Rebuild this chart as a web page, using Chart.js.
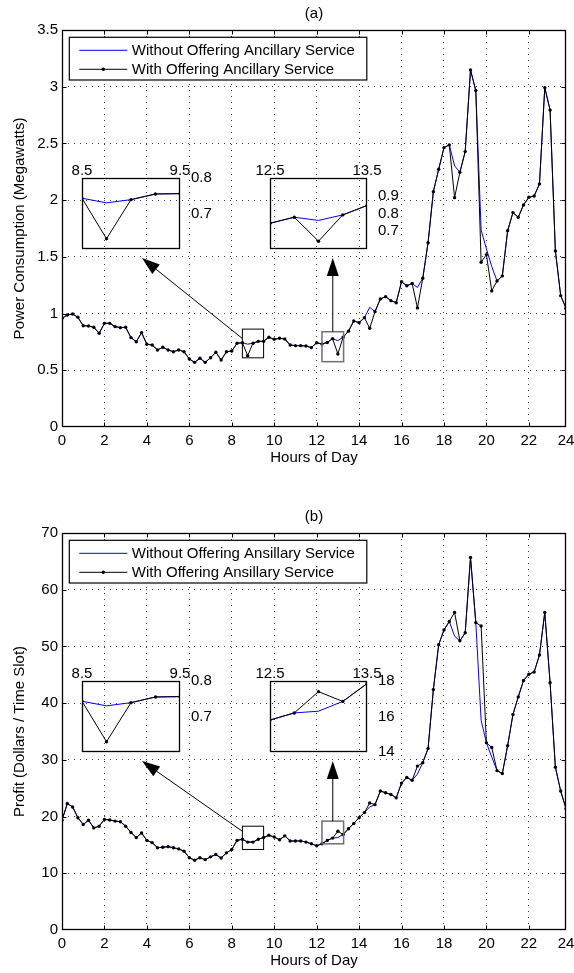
<!DOCTYPE html>
<html>
<head>
<meta charset="utf-8">
<script src="https://cdn.jsdelivr.net/npm/chart.js@4.4.1/dist/chart.umd.min.js"></script>
<style>
  body { margin: 0; background: #fff; }
  #wrap { position: relative; width: 574px; height: 973px; overflow: hidden; }
  #wrap canvas { position: absolute; }
</style>
</head>
<body>
<div id="wrap">
  <canvas id="powerChart" width="574" height="486" style="left:0;top:0"></canvas>
  <canvas id="profitChart" width="574" height="470" style="left:0;top:503px"></canvas>
  <canvas id="powerZoomA"></canvas>
  <canvas id="powerZoomB"></canvas>
  <canvas id="profitZoomA"></canvas>
  <canvas id="profitZoomB"></canvas>
</div>
<script>
// one sample every 15 minutes, 0:00 .. 23:45
const slotHours = Array.from({ length: 96 }, (_, i) => i * 0.25);
const X_MAX = 23.75;
const hourTicks = [0, 2, 4, 6, 8, 10, 12, 14, 16, 18, 20, 22, 24];
const hourTickLabels = ['0', '2', '4', '6', '8', '10', '12', '14', '16', '18', '20', '22', '24'];

const powerTicks = [0, 0.5, 1, 1.5, 2, 2.5, 3, 3.5];
const profitTicks = [0, 10, 20, 30, 40, 50, 60, 70];

const powerLabels = ['Without Offering Ancillary Service', 'With Offering Ancillary Service'];
const profitLabels = ['Without Offering Ansillary Service', 'With Offering Ansillary Service'];

// power consumption (MW)
const powerWith = [
  0.958, 0.988, 0.996, 0.967, 0.893, 0.890, 0.879, 0.826,
  0.914, 0.914, 0.885, 0.876, 0.879, 0.788, 0.752, 0.832,
  0.729, 0.723, 0.679, 0.703, 0.679, 0.664, 0.679, 0.664,
  0.600, 0.570, 0.606, 0.570, 0.611, 0.659, 0.591, 0.664,
  0.670, 0.738, 0.743, 0.629, 0.739, 0.755, 0.756, 0.791,
  0.773, 0.782, 0.776, 0.723, 0.717, 0.717, 0.714, 0.700,
  0.743, 0.732, 0.745, 0.779, 0.644, 0.792, 0.845, 0.935,
  0.920, 0.964, 0.870, 1.017, 1.129, 1.149, 1.114, 1.096,
  1.281, 1.245, 1.265, 1.050, 1.311, 1.625, 2.075, 2.272,
  2.463, 2.487, 2.022, 2.246, 2.428, 3.148, 2.966, 1.452,
  1.520, 1.200, 1.287, 1.332, 1.731, 1.890, 1.849, 1.958,
  2.025, 2.037, 2.143, 2.992, 2.795, 1.552, 1.158, 1.047
];
const powerWithout = [
  0.958, 0.988, 0.996, 0.967, 0.893, 0.890, 0.879, 0.826,
  0.914, 0.914, 0.885, 0.876, 0.879, 0.788, 0.752, 0.832,
  0.729, 0.723, 0.679, 0.703, 0.679, 0.664, 0.679, 0.664,
  0.600, 0.570, 0.606, 0.570, 0.611, 0.659, 0.591, 0.664,
  0.670, 0.738, 0.743, 0.730, 0.739, 0.755, 0.756, 0.791,
  0.773, 0.782, 0.776, 0.723, 0.717, 0.717, 0.714, 0.700,
  0.743, 0.732, 0.745, 0.779, 0.761, 0.792, 0.845, 0.935,
  0.920, 0.964, 1.055, 1.017, 1.129, 1.149, 1.114, 1.096,
  1.281, 1.245, 1.265, 1.230, 1.311, 1.625, 2.075, 2.272,
  2.463, 2.487, 2.302, 2.246, 2.428, 3.148, 2.966, 1.737,
  1.570, 1.415, 1.287, 1.332, 1.731, 1.890, 1.849, 1.958,
  2.025, 2.037, 2.143, 2.992, 2.795, 1.552, 1.158, 1.047
];

// profit ($ per time slot)
const profitWith = [
  19.35, 22.3, 21.7, 19.8, 18.6, 19.35, 18.0, 18.3,
  19.5, 19.4, 19.2, 19.1, 18.3, 17.2, 16.3, 17.1,
  15.8, 15.4, 14.5, 14.6, 14.7, 14.5, 14.3, 13.9,
  12.75, 12.3, 12.75, 12.4, 12.9, 13.3, 12.7, 13.6,
  14.2, 15.8, 16.0, 15.5, 15.5, 16.0, 16.3, 16.7,
  16.4, 15.9, 16.6, 15.7, 15.7, 15.7, 15.5, 15.2,
  14.85, 15.2, 15.8, 16.2, 17.4, 16.85, 17.85, 18.8,
  19.8, 20.7, 22.4, 22.1, 24.5, 24.2, 23.9, 23.3,
  25.9, 26.9, 26.4, 28.9, 29.5, 32.0, 42.4, 50.3,
  52.9, 54.4, 56.0, 51.0, 52.4, 65.7, 54.2, 53.6,
  33.0, 32.2, 28.1, 27.6, 32.5, 38.0, 41.1, 44.0,
  45.1, 45.5, 48.5, 56.0, 43.6, 28.7, 24.5, 21.4
];
const profitWithout = [
  19.35, 22.3, 21.7, 19.8, 18.6, 19.35, 18.0, 18.3,
  19.5, 19.4, 19.2, 19.1, 18.3, 17.2, 16.3, 17.1,
  15.8, 15.4, 14.5, 14.6, 14.7, 14.5, 14.3, 13.9,
  12.75, 12.3, 12.75, 12.4, 12.9, 13.3, 12.7, 13.6,
  14.2, 15.8, 16.0, 15.5, 15.5, 16.0, 16.3, 16.7,
  16.4, 15.9, 16.6, 15.7, 15.7, 15.7, 15.5, 15.2,
  14.85, 15.2, 15.8, 16.2, 16.3, 16.85, 17.85, 18.8,
  19.8, 20.7, 21.7, 22.1, 24.5, 24.2, 23.9, 23.3,
  25.9, 26.9, 26.4, 27.5, 29.5, 32.0, 42.4, 50.3,
  52.9, 54.4, 51.8, 51.0, 52.4, 65.7, 54.2, 37.0,
  33.0, 30.5, 28.1, 27.6, 32.5, 38.0, 41.1, 44.0,
  45.1, 45.5, 48.5, 56.0, 43.6, 28.7, 24.5, 21.4
];

// zoomed windows
const zoomHoursA = [8.5, 9.5];
const zoomHoursB = [12.5, 13.5];
const zoomPowerRangeA = [0.6, 0.8];
const zoomPowerTicksA = [0.7, 0.8];
const zoomPowerRangeB = [0.6, 1.0];
const zoomPowerTicksB = [0.7, 0.8, 0.9];
const zoomProfitRangeB = [14, 18];
const zoomProfitTicksB = [14, 16, 18];

Chart.defaults.font.family = "'Liberation Sans', Arial, Helvetica, sans-serif";
Chart.defaults.font.size = 15;
Chart.defaults.color = '#000';

// inset boxes, in main-canvas pixels
const insetA = { left: 82, top: 178, w: 98, h: 73 };
const insetB = { left: 270, top: 178, w: 97, h: 73 };

function lineSets(labels, without, withSvc) {
  return [
    {
      label: labels[0],
      data: slotHours.map((h, i) => ({ x: h, y: without[i] })),
      borderColor: '#0000ff', borderWidth: 1, pointRadius: 0, order: 2
    },
    {
      label: labels[1],
      data: slotHours.map((h, i) => ({ x: h, y: withSvc[i] })),
      borderColor: '#000', borderWidth: 1,
      pointRadius: 1.7, pointBackgroundColor: '#000', pointBorderWidth: 0, order: 1
    }
  ];
}

function drawArrow(ctx, x0, y0, x1, y1) {
  const ang = Math.atan2(y1 - y0, x1 - x0), len = 18, half = 6;
  const bx = x1 - len * Math.cos(ang), by = y1 - len * Math.sin(ang);
  ctx.beginPath(); ctx.moveTo(x0, y0); ctx.lineTo(bx, by); ctx.stroke();
  ctx.beginPath();
  ctx.moveTo(x1, y1);
  ctx.lineTo(bx + half * Math.sin(ang), by - half * Math.cos(ang));
  ctx.lineTo(bx - half * Math.sin(ang), by + half * Math.cos(ang));
  ctx.closePath(); ctx.fill();
}

// dotted grid, hidden on the outer edges where the box sits
const gridColor = ctx => (ctx.index === 0 || ctx.index === ctx.scale.ticks.length - 1)
  ? 'rgba(0,0,0,0)' : 'rgba(0,0,0,0.75)';

// box, inward ticks, zoom windows, arrows, legend and titles
const framePlugin = {
  id: 'frame',
  afterDatasetsDraw(chart, args, opts) {
    const { ctx, chartArea: a } = chart;
    const x = chart.scales.x, y = chart.scales.y;
    ctx.save();

    opts.windows.forEach(w => {
      const l = x.getPixelForValue(w.x[0]), r = x.getPixelForValue(w.x[1]);
      const t = y.getPixelForValue(w.y[1]), b = y.getPixelForValue(w.y[0]);
      ctx.strokeStyle = w.color; ctx.lineWidth = w.width;
      ctx.strokeRect(l, t, r - l, b - t);
    });

    ctx.strokeStyle = '#000'; ctx.fillStyle = '#000'; ctx.lineWidth = 1;
    opts.arrows.forEach(ar => {
      const x0 = x.getPixelForValue(ar.from[0]), y0 = y.getPixelForValue(ar.from[1]);
      const x1 = ar.to[0] === null ? x0 : ar.to[0];
      drawArrow(ctx, x0, y0, x1, ar.to[1]);
    });

    // axes box with inward ticks
    const L = Math.round(a.left) + 0.5, R = Math.round(a.right) - 0.5;
    const T = Math.round(a.top) + 0.5, B = Math.round(a.bottom) - 0.5;
    const clamp = (v, lo, hi) => Math.max(lo, Math.min(hi, v));
    ctx.lineWidth = 1.3;
    ctx.strokeRect(L, T, R - L, B - T);
    ctx.lineWidth = 1;
    ctx.beginPath();
    x.ticks.forEach(tk => {
      const px = clamp(Math.round(x.getPixelForValue(tk.value)) + 0.5, L, R);
      ctx.moveTo(px, B); ctx.lineTo(px, B - 4);
      ctx.moveTo(px, T); ctx.lineTo(px, T + 4);
    });
    y.ticks.forEach(tk => {
      const py = clamp(Math.round(y.getPixelForValue(tk.value)) + 0.5, T, B);
      ctx.moveTo(L, py); ctx.lineTo(L + 4, py);
      ctx.moveTo(R, py); ctx.lineTo(R - 4, py);
    });
    ctx.stroke();

    // legend
    const lx = a.left + 7.3, ly = a.top + 7.3, lw = 297.5, lh = 42.7;
    ctx.fillStyle = '#fff';
    ctx.fillRect(lx, ly, lw, lh);
    ctx.strokeStyle = '#000'; ctx.lineWidth = 1.2;
    ctx.strokeRect(lx, ly, lw, lh);
    ctx.font = "15px 'Liberation Sans', Arial, sans-serif";
    ctx.textAlign = 'left'; ctx.textBaseline = 'middle';
    chart.data.datasets.forEach((ds, i) => {
      const ry = ly + 13 + i * 19;
      ctx.strokeStyle = ds.borderColor; ctx.lineWidth = 1;
      ctx.beginPath(); ctx.moveTo(lx + 10, ry); ctx.lineTo(lx + 58, ry); ctx.stroke();
      if (ds.pointRadius > 0) {
        ctx.fillStyle = '#000';
        ctx.beginPath(); ctx.arc(lx + 34, ry, ds.pointRadius, 0, Math.PI * 2); ctx.fill();
      }
      ctx.fillStyle = '#000';
      ctx.fillText(ds.label, lx + 62.5, ry + 0.5);
    });

    // titles
    const cx = (a.left + a.right) / 2;
    ctx.textAlign = 'center';
    ctx.fillText(opts.title, cx, a.top - 16.5);
    ctx.fillText(opts.xTitle, cx, a.bottom + 31);
    ctx.translate(20, (a.top + a.bottom) / 2);
    ctx.rotate(-Math.PI / 2);
    ctx.fillText(opts.yTitle, 0, 0);
    ctx.restore();
  }
};

function buildMain(id, labels, without, withSvc, yTicks, frame) {
  const el = document.getElementById(id);
  return new Chart(el, {
    type: 'line',
    data: { datasets: lineSets(labels, without, withSvc) },
    options: {
      responsive: false, animation: false, devicePixelRatio: 1,
      layout: { padding: { top: 30, right: 8, left: 0, bottom: 0 } },
      plugins: { legend: { display: false }, tooltip: { enabled: false }, frame },
      scales: {
        x: {
          type: 'linear', min: 0, max: X_MAX,
          afterBuildTicks: s => { s.ticks = hourTicks.map(v => ({ value: Math.min(v, X_MAX) })); },
          afterFit: s => { s.height = el.height - 427; s.paddingLeft = 0; s.paddingRight = 0; },
          grid: { color: gridColor, lineWidth: 1, drawTicks: false, borderDash: [1, 5] },
          border: { display: false, dash: [1, 5] },
          ticks: { autoSkip: false, maxRotation: 0, padding: 5, callback: (v, i) => hourTickLabels[i] }
        },
        y: {
          min: yTicks[0], max: yTicks[yTicks.length - 1],
          afterBuildTicks: s => { s.ticks = yTicks.map(v => ({ value: v })); },
          afterFit: s => { s.width = 62; s.paddingTop = 0; s.paddingBottom = 0; },
          grid: { color: gridColor, lineWidth: 1, drawTicks: false, borderDash: [1, 5] },
          border: { display: false, dash: [1, 5] },
          ticks: { padding: 4, callback: v => String(v) }
        }
      }
    },
    plugins: [framePlugin]
  });
}

const insetBoxPlugin = {
  id: 'insetBox',
  afterDatasetsDraw(chart) {
    const { ctx, chartArea: a } = chart;
    ctx.save();
    ctx.strokeStyle = '#000'; ctx.lineWidth = 1.3;
    ctx.strokeRect(Math.round(a.left) + 0.5, Math.round(a.top) + 0.5,
      Math.round(a.width) - 1, Math.round(a.height) - 1);
    ctx.restore();
  }
};

function buildInset(id, box, offsetY, labels, without, withSvc, xr, yr, yTicks) {
  const el = document.getElementById(id);
  el.width = box.w + 52;
  el.height = box.h + 24;
  el.style.left = (box.left - 20) + 'px';
  el.style.top = (box.top + offsetY - 22) + 'px';
  return new Chart(el, {
    type: 'line',
    data: { datasets: lineSets(labels, without, withSvc) },
    options: {
      responsive: false, animation: false, devicePixelRatio: 1,
      layout: { padding: { left: 20, right: 0, top: 0, bottom: 2 } },
      plugins: { legend: { display: false }, tooltip: { enabled: false } },
      scales: {
        x: {
          type: 'linear', position: 'top', min: xr[0], max: xr[1],
          afterBuildTicks: s => { s.ticks = xr.map(v => ({ value: v })); },
          afterFit: s => { s.height = 22; s.paddingLeft = 0; s.paddingRight = 0; },
          grid: { display: false }, border: { display: false },
          ticks: { autoSkip: false, maxRotation: 0, padding: -10, callback: v => String(v) }
        },
        y: {
          position: 'right', min: yr[0], max: yr[1],
          afterBuildTicks: s => { s.ticks = yTicks.map(v => ({ value: v })); },
          afterFit: s => { s.width = 32; s.paddingTop = 0; s.paddingBottom = 0; },
          grid: { display: false }, border: { display: false },
          ticks: { padding: 3, callback: v => String(v) }
        }
      }
    },
    plugins: [insetBoxPlugin]
  });
}

const arrowTipA = [insetA.left + 60, insetA.top + insetA.h + 7];
const arrowTipB = [null, insetB.top + insetB.h + 7];

buildMain('powerChart', powerLabels, powerWithout, powerWith, powerTicks, {
  title: '(a)', xTitle: 'Hours of Day', yTitle: 'Power Consumption (Megawatts)',
  windows: [
    { x: [8.5, 9.5], y: [0.61, 0.863], color: '#000', width: 1 },
    { x: [12.25, 13.27], y: [0.576, 0.84], color: '#707070', width: 1.5 }
  ],
  arrows: [
    { from: [8.5, 0.78], to: arrowTipA },
    { from: [12.76, 0.84], to: arrowTipB }
  ]
});

buildMain('profitChart', profitLabels, profitWithout, profitWith, profitTicks, {
  title: '(b)', xTitle: 'Hours of Day', yTitle: 'Profit (Dollars / Time Slot)',
  windows: [
    { x: [8.5, 9.5], y: [14.2, 18.3], color: '#000', width: 1 },
    { x: [12.25, 13.27], y: [15.2, 19.2], color: '#707070', width: 1.5 }
  ],
  arrows: [
    { from: [8.5, 17.4], to: arrowTipA },
    { from: [12.76, 19.2], to: arrowTipB }
  ]
});

buildInset('powerZoomA', insetA, 0, powerLabels, powerWithout, powerWith, zoomHoursA, zoomPowerRangeA, zoomPowerTicksA);
buildInset('powerZoomB', insetB, 0, powerLabels, powerWithout, powerWith, zoomHoursB, zoomPowerRangeB, zoomPowerTicksB);
// the first zoom panel of (b) repeats the power detail
buildInset('profitZoomA', insetA, 503, profitLabels, powerWithout, powerWith, zoomHoursA, zoomPowerRangeA, zoomPowerTicksA);
buildInset('profitZoomB', insetB, 503, profitLabels, profitWithout, profitWith, zoomHoursB, zoomProfitRangeB, zoomProfitTicksB);
</script>
</body>
</html>
